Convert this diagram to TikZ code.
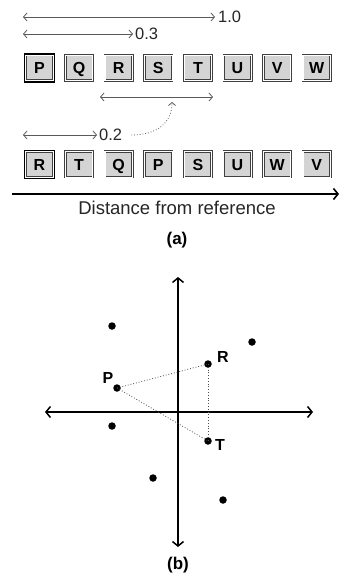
\documentclass[tikz,border=0pt]{standalone}
\usepackage{fontspec}
\setmainfont{Liberation Sans}
\usetikzlibrary{arrows.meta}
\begin{document}
\begin{tikzpicture}[x=1pt,y=-1pt,
  cell/.style={draw=black!75, line width=0.7pt, double=white, double distance=1.1pt,
    fill=black!17, minimum width=27.5pt, minimum height=25.5pt, inner sep=0pt, outer sep=0pt,
    text height=11.5pt, text depth=0pt,
    font=\fontsize{16}{16}\selectfont\bfseries},
  lbl/.style={font=\fontsize{16.5}{16.5}\selectfont, inner sep=0pt, anchor=west, text=black!85},
  dim/.style={draw=black!65, line width=0.8pt, {Straight Barb[length=3.5pt,width=8pt]}-{Straight Barb[length=3.5pt,width=8pt]}},
  axis/.style={draw=black, line width=1.6pt, -{Straight Barb[length=4.5pt,width=11pt]}},
  dot/.style={circle, fill=black, inner sep=0pt, minimum size=7.5pt},
  ptlbl/.style={font=\fontsize{16}{16}\selectfont\bfseries, inner sep=0pt},
  tri/.style={draw=black!70, line width=0.8pt, dotted},
  captxt/.style={font=\fontsize{17}{17}\selectfont\bfseries, inner sep=0pt}
]
\useasboundingbox (0,0) rectangle (341,577);

% ---------- (a) ----------
\foreach \t [count=\i from 0] in {P,Q,R,S,T,U,V,W}
  \node[cell] (a\t) at (39.5+39.6*\i,68) {\t};
\foreach \t [count=\i from 0] in {R,T,Q,P,S,U,W,V}
  \node[cell] (b\i) at (39.5+39.6*\i,164.5) {\t};
\draw[line width=1.8pt] ([xshift=-1.3pt,yshift=1.3pt]aP.north west) rectangle ([xshift=1.3pt,yshift=-1.3pt]aP.south east);
\draw[line width=1.8pt] ([xshift=-1.3pt,yshift=1.3pt]b0.north west) rectangle ([xshift=1.3pt,yshift=-1.3pt]b0.south east);

\coordinate (s10) at (23,17);
\coordinate (e10) at (215,17);
\coordinate (s03) at (23,34);
\coordinate (e03) at (133,34);
\coordinate (s02) at (23,135);
\coordinate (e02) at (97,135);
\coordinate (ms) at (100,97);
\coordinate (me) at (213,97);
\draw[dim] (s10) -- (e10);
\draw[dim] (s03) -- (e03);
\draw[dim] (s02) -- (e02);
\draw[dim] (ms) -- (me);
\node[lbl] (l10) at (218,17) {1.0};
\node[lbl] (l03) at (135,34) {0.3};
\node[lbl] (l02) at (99,135) {0.2};
\coordinate (mid) at (172,102);
\draw[draw=black!65, line width=0.8pt, dotted, -{Straight Barb[length=3pt,width=7pt]}]
  ([xshift=9pt]l02.east) .. controls (158,135) and (172,122) .. (mid);

\coordinate (xa0) at (12,194);
\coordinate (xa1) at (339,194);
\draw[axis] (xa0) -- (xa1);
\node[font=\fontsize{18.5}{18.5}\selectfont, inner sep=0pt, text=black!85] (dist) at (177,208) {Distance from reference};
\node[captxt] (capa) at (177,240) {(a)};

% ---------- (b) ----------
\coordinate (vt) at (178,277);
\coordinate (vb) at (178,547);
\coordinate (hl) at (45,412);
\coordinate (hr) at (313,412);
\draw[draw=black, line width=1.5pt, {Straight Barb[length=4.5pt,width=11pt]}-{Straight Barb[length=4.5pt,width=11pt]}] (vb) -- (vt);
\draw[draw=black, line width=1.5pt, {Straight Barb[length=4.5pt,width=11pt]}-{Straight Barb[length=4.5pt,width=11pt]}] (hl) -- (hr);

\node[dot] (d1) at (112,326) {};
\node[dot] (d2) at (252,342) {};
\node[dot] (R) at (208,364) {};
\node[dot] (P) at (117,388) {};
\node[dot] (d3) at (112,426) {};
\node[dot] (T) at (208,441) {};
\node[dot] (d4) at (153,478) {};
\node[dot] (d5) at (223,500) {};
\draw[tri] (P.center) -- (R.center);
\draw[tri] (P.center) -- (T.center);
\draw[tri] (R.center) -- (T.center);
\node[ptlbl] (lR) at (223,357) {R};
\node[ptlbl] (lP) at (108,378) {P};
\node[ptlbl] (lT) at (220,445) {T};
\node[captxt] (capb) at (178,565) {(b)};
\end{tikzpicture}
\end{document}
